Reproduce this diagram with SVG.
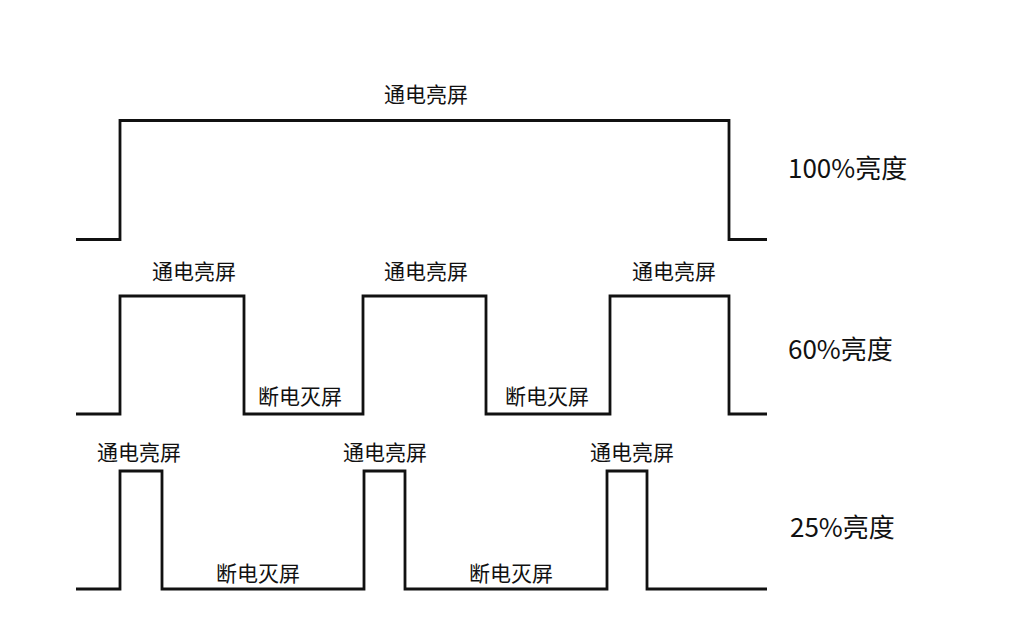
<svg xmlns="http://www.w3.org/2000/svg" width="1032" height="624" viewBox="0 0 1032 624">
<style>
.wave{fill:none;stroke:#111;stroke-width:2.8;stroke-linejoin:miter}
.lbl{font-family:"Noto Sans CJK SC","Noto Sans",sans-serif;font-size:21px;fill:#111;text-anchor:middle}
.pct{font-family:"Noto Sans CJK SC","Noto Sans",sans-serif;font-size:26px;fill:#111}
</style>
<rect width="1032" height="624" fill="#fff"/>
<g id="connectors">
<polyline class="wave" points="76,239.5 120,239.5 120,120.5 729,120.5 729,239.5 767,239.5"/>
<polyline class="wave" points="76,414 120,414 120,296 244,296 244,414 363,414 363,296 486,296 486,414 610,414 610,296 729,296 729,414 767,414"/>
<polyline class="wave" points="76,589 120,589 120,471 162,471 162,589 364,589 364,471 405,471 405,589 607,589 607,471 647,471 647,589 767,589"/>
</g>
<g id="row100">
<text class="lbl" x="426" y="102">通电亮屏</text>
<text class="pct" x="788" y="178">100%亮度</text>
</g>
<g id="row60">
<text class="lbl" x="194" y="279">通电亮屏</text>
<text class="lbl" x="426" y="279">通电亮屏</text>
<text class="lbl" x="674" y="279">通电亮屏</text>
<text class="lbl" x="300" y="404">断电灭屏</text>
<text class="lbl" x="547" y="404">断电灭屏</text>
<text class="pct" x="788" y="359">60%亮度</text>
</g>
<g id="row25">
<text class="lbl" x="139" y="460">通电亮屏</text>
<text class="lbl" x="385" y="460">通电亮屏</text>
<text class="lbl" x="632" y="460">通电亮屏</text>
<text class="lbl" x="258" y="581">断电灭屏</text>
<text class="lbl" x="511" y="581">断电灭屏</text>
<text class="pct" x="790" y="537">25%亮度</text>
</g>
</svg>
